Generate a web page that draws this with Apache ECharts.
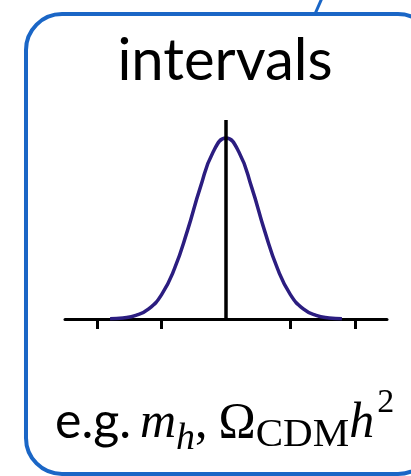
<!DOCTYPE html>
<html>
<head>
<meta charset="utf-8">
<script src="https://cdn.jsdelivr.net/npm/echarts@6/dist/echarts.min.js"></script>
<style>
  html, body { margin: 0; padding: 0; background: #fff; }
  #chart { width: 411px; height: 476px; }
</style>
</head>
<body>
<div id="chart"></div>
<script>
// Parameter offset in units of sigma, and the normalised probability density there
const offsets = [-3.6, -3.2, -2.8, -2.4, -2.0, -1.6, -1.2, -0.8, -0.4, 0,
                 0.4, 0.8, 1.2, 1.6, 2.0, 2.4, 2.8, 3.2, 3.6];
const density = [0.0015, 0.006, 0.020, 0.056, 0.135, 0.278, 0.487, 0.726, 0.923, 1.0,
                 0.923, 0.726, 0.487, 0.278, 0.135, 0.056, 0.020, 0.006, 0.0015];
// Best-fit marker (central value) and the axis tick positions
const centralValue = [[0, 0], [0, 1.1]];
const tickValues = [-4, -2, 2, 4];
const axisRange = [-5, 5];

const titleText = 'intervals';
// Caption pieces: text, font, vertical shift (sub/superscripts)
const caption = [
  { text: 'e.g.', font: 'normal', size: 50, family: 'Lato', shift: 0, after: 9 },
  { text: 'm', font: 'italic', size: 50, family: 'Liberation Serif', shift: 0, after: 0 },
  { text: 'h', font: 'italic', size: 38, family: 'Liberation Serif', shift: 11, after: 0 },
  { text: ',', font: 'normal', size: 50, family: 'Liberation Serif', shift: 0, after: 11 },
  { text: 'Ω', font: 'normal', size: 50, family: 'Liberation Serif', shift: 0, after: 0 },
  { text: 'CDM', font: 'normal', size: 41, family: 'Liberation Serif', shift: 8, after: 0 },
  { text: 'h', font: 'italic', size: 50, family: 'Liberation Serif', shift: 0, after: 3 },
  { text: '2', font: 'normal', size: 34, family: 'Liberation Serif', shift: -26, after: 0 }
];

const chart = echarts.init(document.getElementById('chart'), null, { renderer: 'canvas' });

// Lay the caption out left to right using measured glyph widths
const measure = document.createElement('canvas').getContext('2d');
const captionBaseline = 441;
const captionStart = 55;
const middleRatio = { 'Lato': 0.39, 'Liberation Serif': 0.34 };
let cursor = captionStart;
const captionEls = caption.map(p => {
  measure.font = p.font + ' ' + p.size + 'px "' + p.family + '"';
  const w = measure.measureText(p.text).width;
  const el = {
    type: 'text',
    x: cursor,
    y: captionBaseline + p.shift - middleRatio[p.family] * p.size,
    style: {
      text: p.text,
      fontSize: p.size,
      fontFamily: p.family,
      fontStyle: p.font,
      fill: '#000',
      textAlign: 'left',
      textVerticalAlign: 'middle'
    },
    z: 10
  };
  cursor += w + p.after;
  return el;
});

const option = {
  backgroundColor: '#fff',
  animation: false,
  grid: { left: 65, right: 24, top: 120, bottom: 157 },
  xAxis: {
    type: 'value',
    min: axisRange[0],
    max: axisRange[1],
    axisLine: { show: true, lineStyle: { color: '#000', width: 3 } },
    axisTick: {
      show: true,
      customValues: tickValues,
      length: 10,
      lineStyle: { color: '#000', width: 3 }
    },
    axisLabel: { show: false },
    splitLine: { show: false }
  },
  yAxis: {
    type: 'value',
    min: 0,
    max: 1.1,
    show: false
  },
  series: [
    {
      type: 'line',
      data: offsets.map((x, i) => [x, density[i]]),
      smooth: 0.5,
      showSymbol: false,
      lineStyle: { color: '#2b1d80', width: 3.5 },
      z: 3
    },
    {
      type: 'line',
      data: centralValue,
      showSymbol: false,
      lineStyle: { color: '#000', width: 3.5 },
      z: 4
    }
  ],
  graphic: [
    {
      type: 'rect',
      shape: { x: 26, y: 14, width: 408, height: 460, r: 36 },
      style: { fill: 'none', stroke: '#1a66c6', lineWidth: 4 },
      z: 1
    },
    {
      type: 'line',
      shape: { x1: 322, y1: -2, x2: 315, y2: 14 },
      style: { stroke: '#1a66c6', lineWidth: 3 },
      z: 1
    },
    {
      type: 'text',
      x: 225,
      y: 84 - 0.39 * 58,
      style: {
        text: titleText,
        fontSize: 58,
        fontFamily: 'Lato',
        fill: '#000',
        textAlign: 'center',
        textVerticalAlign: 'middle'
      },
      z: 10
    }
  ].concat(captionEls)
};

chart.setOption(option);
</script>
</body>
</html>
